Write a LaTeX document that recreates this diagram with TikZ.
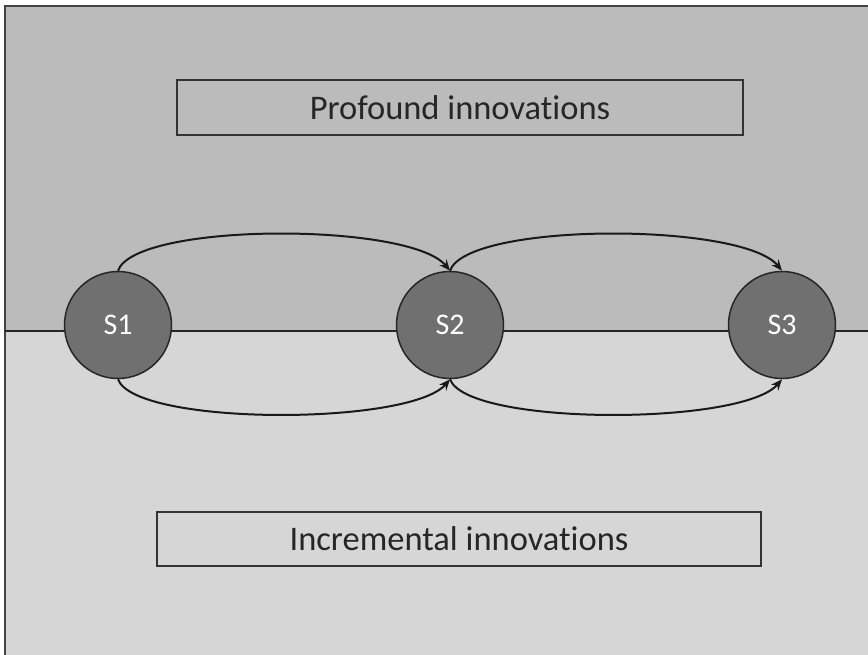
\documentclass[tikz,border=0pt]{standalone}
\usepackage{fontspec}
\setmainfont{Carlito}[Ligatures=NoCommon,RawFeature=-liga]
\usetikzlibrary{arrows.meta}
\definecolor{upperbg}{HTML}{BBBBBB}
\definecolor{lowerbg}{HTML}{D5D6D5}
\definecolor{statefill}{HTML}{707070}
\definecolor{framecol}{HTML}{444444}
\tikzset{
  statenode/.style={circle, draw=black!85, line width=1.5pt, fill=statefill, minimum size=107pt, inner sep=0pt, text=white, font=\fontsize{30}{34}\selectfont},
  labelbox/.style={draw=black!80, line width=2pt, inner sep=0pt, font=\fontsize{34.5}{38}\selectfont, text=black!85},
  flow/.style={line width=2pt, black!90, -{Stealth[length=11pt,width=9pt]}}
}
\begin{document}
\begin{tikzpicture}[x=1pt,y=-1pt]
\useasboundingbox (0,0) rectangle (868,655);
\fill[upperbg] (5,6) rectangle (868,331);
\fill[lowerbg] (5,331) rectangle (868,655);
\draw[framecol, line width=2pt] (5,655) -- (5,6) -- (868,6);
\draw[black!85, line width=1.5pt] (5,331) -- (868,331);
\node[labelbox, minimum width=566pt, minimum height=55pt] (prof) at (460,107.5) {Profound innovat\kern0pt ions};
\node[labelbox, minimum width=604pt, minimum height=54pt] (incr) at (459,539) {Incremental innovat\kern0pt ions};
\node[statenode] (s1) at (118,325) {S1};
\node[statenode] (s2) at (450,325) {S2};
\node[statenode] (s3) at (782,325) {S3};
\draw[flow] (s1.north) .. controls (135,222) and (410,222) .. (s2.north);
\draw[flow] (s2.north) .. controls (467,222) and (742,222) .. (s3.north);
\draw[flow] (s1.south) .. controls (135,426) and (410,426) .. (s2.south);
\draw[flow] (s2.south) .. controls (467,426) and (742,426) .. (s3.south);
\end{tikzpicture}
\end{document}
